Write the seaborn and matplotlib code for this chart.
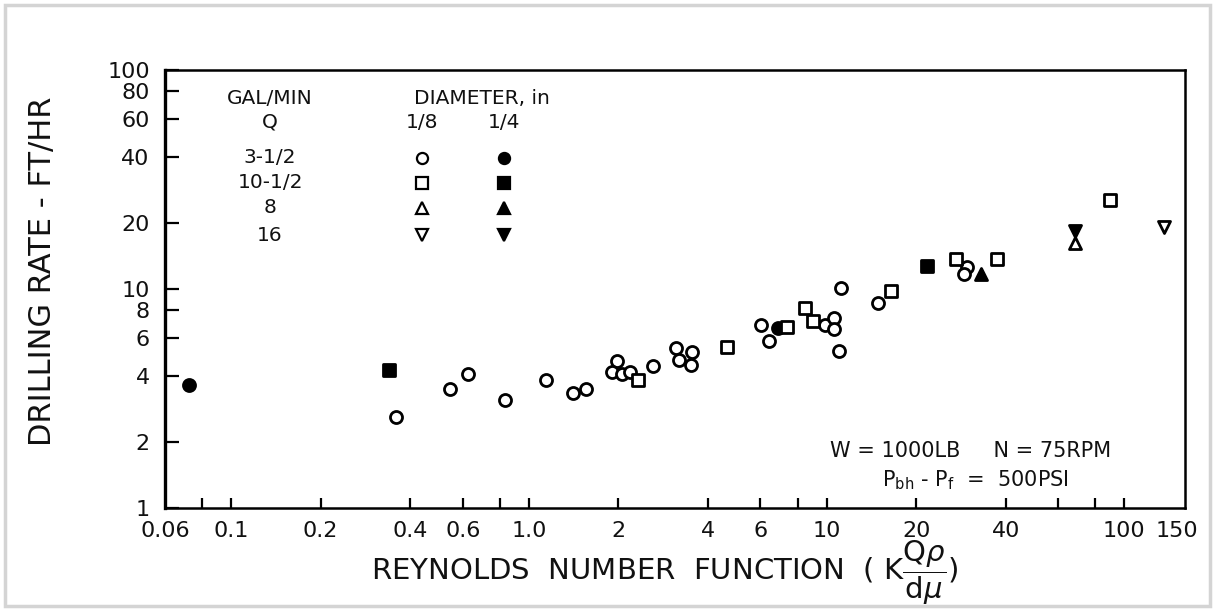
import matplotlib
matplotlib.use("Agg")
import matplotlib.pyplot as plt
from matplotlib.patches import Rectangle
import pandas as pd
import seaborn as sns

# Reynolds number function K*Q*rho/(d*mu) against drilling rate (ft/hr),
# grouped by flow rate Q (gal/min) and nozzle diameter (in)
reynolds = [
    # Q = 3-1/2, d = 1/8
    0.357, 0.545, 0.625, 0.835, 1.14, 1.41, 1.56, 1.98, 1.91, 2.06, 2.19, 2.62,
    3.13, 3.53, 3.20, 3.51, 6.03, 6.39, 9.85, 10.6, 10.6, 11.2, 11.0, 14.9,
    29.7, 29.0,
    # Q = 3-1/2, d = 1/4
    0.072, 6.85,
    # Q = 10-1/2, d = 1/8
    2.33, 4.64, 7.35, 8.5, 9.04, 16.5, 27.3, 37.3, 89.5,
    # Q = 10-1/2, d = 1/4
    0.338, 21.8,
    # Q = 8
    68.6, 33.0,
    # Q = 16
    136.0, 68.6,
]
rate = [
    2.60, 3.50, 4.07, 3.11, 3.84, 3.34, 3.49, 4.69, 4.18, 4.09, 4.17, 4.47,
    5.36, 5.15, 4.74, 4.49, 6.85, 5.81, 6.87, 7.38, 6.55, 10.1, 5.21, 8.6,
    12.6, 11.7,
    3.65, 6.65,
    3.83, 5.43, 6.70, 8.22, 7.13, 9.82, 13.7, 13.7, 25.5,
    4.27, 12.7,
    16.3, 11.7,
    19.1, 18.4,
]
flow = (["3-1/2"] * 28 + ["10-1/2"] * 11 + ["8"] * 2 + ["16"] * 2)
diameter = (["1/8"] * 26 + ["1/4"] * 2 + ["1/8"] * 9 + ["1/4"] * 2
            + ["1/8", "1/4"] + ["1/8", "1/4"])

flow_order = ["3-1/2", "10-1/2", "8", "16"]
diameter_order = ["1/8", "1/4"]
flow_markers = {"3-1/2": "o", "10-1/2": "s", "8": "^", "16": "v"}

x_ticks = [0.08, 0.1, 0.2, 0.4, 0.6, 0.8, 1, 2, 4, 6, 8, 10, 20, 40, 60, 80, 100]
x_label_vals = [0.06, 0.1, 0.2, 0.4, 0.6, 1, 2, 4, 6, 10, 20, 40, 100, 150]
x_label_text = ["0.06", "0.1", "0.2", "0.4", "0.6", "1.0", "2", "4", "6",
                "10", "20", "40", "100", "150"]
y_label_vals = [1, 2, 4, 6, 8, 10, 20, 40, 60, 80, 100]
y_label_text = ["1", "2", "4", "6", "8", "10", "20", "40", "60", "80", "100"]

df = pd.DataFrame({"re": reynolds, "rate": rate, "flow": flow, "dia": diameter})

sns.set_style("ticks")
plt.rcParams["font.family"] = ["DejaVu Sans"]
plt.rcParams["mathtext.fontset"] = "dejavusans"

ink = "#111111"
fig = plt.figure(figsize=(12.16, 6.11), dpi=100)
ax = fig.add_axes([0.1357, 0.1686, 0.8388, 0.7168])
ax.set_xscale("log")
ax.set_yscale("log")
ax.set_xlim(0.06, 160)
ax.set_ylim(1, 100)

for q in flow_order:
    for d in diameter_order:
        sub = df[(df["flow"] == q) & (df["dia"] == d)]
        if sub.empty:
            continue
        filled = d == "1/4"
        sns.scatterplot(data=sub, x="re", y="rate", ax=ax,
                        marker=flow_markers[q], s=75,
                        facecolor="black" if filled else "white",
                        edgecolor="black", linewidth=2.0, zorder=3,
                        legend=False)

# axis ticks
ax.xaxis.set_minor_locator(matplotlib.ticker.NullLocator())
ax.yaxis.set_minor_locator(matplotlib.ticker.NullLocator())
ax.set_xticks(x_ticks, [""] * len(x_ticks))
ax.tick_params(axis="x", direction="in", length=7, width=1.6, color="black")
for v, t in zip(x_label_vals, x_label_text):
    ax.text(v, -0.03, t, transform=ax.get_xaxis_transform(), ha="center",
            va="top", fontsize=16, color=ink)
ax.set_yticks(y_label_vals, y_label_text)
ax.tick_params(axis="y", direction="in", length=10, width=1.6, pad=11,
               labelsize=16, color="black", labelcolor=ink)

for side in ["left", "right", "top", "bottom"]:
    ax.spines[side].set_visible(True)
    ax.spines[side].set_color("black")
    ax.spines[side].set_linewidth(1.8)
ax.spines["left"].set_linewidth(2.4)

ax.set_xlabel(r"REYNOLDS  NUMBER  FUNCTION  ( K$\dfrac{\mathrm{Q}\rho}{\mathrm{d}\mu}$)",
              fontsize=21, color=ink)
ax.xaxis.label.set_va("center")
ax.xaxis.set_label_coords(0.49, -0.148)
ax.set_ylabel("DRILLING RATE - FT/HR", fontsize=22, color=ink)
ax.yaxis.set_label_coords(-0.106, 0.54)

# legend table drawn inside the axes
lx_q, lx_small, lx_big = 0.103, 0.252, 0.332
row_y = [0.800, 0.743, 0.685, 0.623]
tkw = dict(transform=ax.transAxes, ha="center", va="center", fontsize=14.5,
           color=ink)
ax.text(lx_q, 0.936, "GAL/MIN", **tkw)
ax.text(0.311, 0.936, "DIAMETER, in", **tkw)
ax.text(lx_q, 0.881, "Q", **tkw)
ax.text(lx_small, 0.881, "1/8", **tkw)
ax.text(lx_big, 0.881, "1/4", **tkw)
for q, yy in zip(flow_order, row_y):
    ax.text(lx_q, yy, q, **tkw)
    for d, xx in zip(diameter_order, [lx_small, lx_big]):
        ax.plot([xx], [yy], marker=flow_markers[q], markersize=8,
                markerfacecolor="black" if d == "1/4" else "white",
                markeredgecolor="black", markeredgewidth=1.6,
                transform=ax.transAxes, linestyle="none")

# test conditions
ax.text(0.79, 0.13, "W = 1000LB     N = 75RPM", transform=ax.transAxes,
        ha="center", va="center", fontsize=15, color=ink)
ax.text(0.795, 0.063, r"$\mathregular{P_{bh}}$ - $\mathregular{P_f}$  =  500PSI",
        transform=ax.transAxes, ha="center", va="center", fontsize=15,
        color=ink)

fig.patches.append(Rectangle((0.004, 0.008), 0.991, 0.984,
                             transform=fig.transFigure, fill=False,
                             edgecolor="#d4d4d4", linewidth=2.5))

fig.savefig("out.png", dpi=100, facecolor="white")
